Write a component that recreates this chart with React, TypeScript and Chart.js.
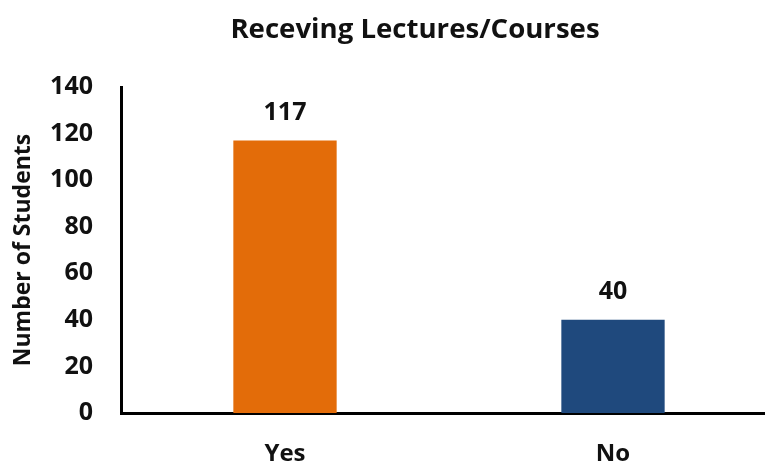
import React, { useEffect, useRef } from "react";
import { Chart, registerables } from "chart.js";

Chart.register(...registerables);

const chartTitle = "Receving Lectures/Courses";
const yAxisTitle = "Number of Students";
const categories = ["Yes", "No"];
const values = [117, 40];
const barColors = ["#E36C09", "#1F497D"];
const yMin = 0;
const yMax = 140;
const yStep = 20;

const FONT = "'Open Sans', sans-serif";

export default function App() {
  const ref = useRef<HTMLCanvasElement | null>(null);

  useEffect(() => {
    document.body.style.margin = "0";
    const canvas = ref.current;
    if (!canvas) return;

    const textPlugin = {
      id: "texts",
      afterDatasetsDraw(chart: any) {
        const ctx = chart.ctx;
        const area = chart.chartArea;
        ctx.save();
        ctx.fillStyle = "#111";
        // data labels
        ctx.font = `bold 25px ${FONT}`;
        ctx.textAlign = "center";
        ctx.textBaseline = "middle";
        const meta = chart.getDatasetMeta(0);
        meta.data.forEach((bar: any, i: number) => {
          ctx.fillText(String(values[i]), bar.x, bar.y - 28);
        });
        // title
        ctx.font = `bold 27.6px ${FONT}`;
        ctx.fillText(chartTitle, 415, 30);
        // y axis title
        ctx.font = `bold 23px ${FONT}`;
        ctx.translate(23, (area.top + area.bottom) / 2);
        ctx.rotate(-Math.PI / 2);
        ctx.fillText(yAxisTitle, 0, 0);
        ctx.restore();
      },
    };

    const chart = new Chart(canvas, {
      type: "bar",
      data: {
        labels: categories,
        datasets: [
          {
            data: values,
            backgroundColor: barColors,
            borderWidth: 0,
            barPercentage: 0.63,
            categoryPercentage: 0.5,
          },
        ],
      },
      options: {
        responsive: false,
        animation: false,
        layout: { padding: { top: 87, right: 53, left: 0, bottom: 0 } },
        plugins: {
          legend: { display: false },
          title: { display: false },
          tooltip: { enabled: false },
        },
        scales: {
          x: {
            grid: { display: false, drawTicks: false },
            border: { display: true, color: "#000", width: 3 },
            ticks: {
              color: "#111",
              font: { family: FONT, weight: "bold", size: 24 },
              padding: 27,
            },
            afterFit(scale: any) {
              scale.height = 51;
            },
          },
          y: {
            min: yMin,
            max: yMax,
            grid: { display: false, drawTicks: false },
            border: { display: true, color: "#000", width: 3 },
            ticks: {
              stepSize: yStep,
              color: "#111",
              font: { family: FONT, weight: "bold", size: 25 },
              padding: 28,
            },
            afterFit(scale: any) {
              scale.width = 121;
            },
          },
        },
      },
      plugins: [textPlugin],
    });
    return () => chart.destroy();
  }, []);

  return (
    <div style={{ width: 765, height: 464, overflow: "hidden", background: "#fff" }}>
      <canvas ref={ref} width={830} height={464} style={{ display: "block" }} />
    </div>
  );
}
